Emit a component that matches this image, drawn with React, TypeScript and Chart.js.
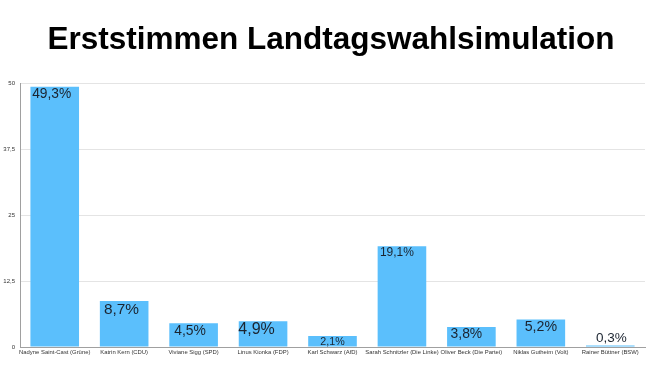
import React, { useEffect, useRef } from "react";
import { Chart, registerables } from "chart.js";

Chart.register(...registerables);

const TITLE = "Erststimmen Landtagswahlsimulation";
const CANDIDATES = [
  "Nadyne Saint-Cast (Grüne)",
  "Katrin Kern (CDU)",
  "Viviane Sigg (SPD)",
  "Linus Kionka (FDP)",
  "Karl Schwarz (AfD)",
  "Sarah Schnitzler (Die Linke)",
  "Oliver Beck (Die Partei)",
  "Niklas Gutheim (Volt)",
  "Rainer Büttner (BSW)",
];
const VOTES = [49.3, 8.7, 4.5, 4.9, 2.1, 19.1, 3.8, 5.2, 0.3];
const Y_TICKS = [0, 12.5, 25, 37.5, 50];
// per-bar label styling (font size, horizontal nudge)
const LABEL_SIZES = [13.8, 15.4, 13.9, 16, 10.7, 12, 13.9, 14.2, 13.5];
const LABEL_DX = [-3, -2.7, -3.5, -6.5, 0, -5, -5, 0, 1];

const FONT = '"Liberation Sans", Arial, sans-serif';
const fmt = (v: number) => v.toString().replace(".", ",");

const labelPlugin = {
  id: "barLabels",
  afterDatasetsDraw(chart: any) {
    const ctx = chart.ctx;
    const meta = chart.getDatasetMeta(0);
    ctx.save();
    ctx.fillStyle = "#1b2430";
    ctx.textAlign = "center";
    ctx.textBaseline = "alphabetic";
    meta.data.forEach((bar: any, i: number) => {
      const size = LABEL_SIZES[i];
      ctx.font = `${size}px ${FONT}`;
      const text = fmt(VOTES[i]) + "%";
      const h = bar.base - bar.y;
      const cap = size * 0.716;
      const x = bar.x + LABEL_DX[i];
      if (h < cap) {
        ctx.fillText(text, x, bar.y - 3.5);
      } else {
        ctx.fillText(text, x, bar.y + cap + 1.5);
      }
    });
    ctx.restore();
  },
};

const titlePlugin = {
  id: "bigTitle",
  afterDraw(chart: any) {
    const ctx = chart.ctx;
    ctx.save();
    ctx.fillStyle = "#000";
    ctx.font = `bold 31.5px ${FONT}`;
    ctx.textAlign = "center";
    ctx.textBaseline = "alphabetic";
    ctx.fillText(TITLE, 331, 49);
    ctx.restore();
  },
};

export default function App() {
  const ref = useRef<HTMLCanvasElement>(null);
  useEffect(() => {
    if (!ref.current) return;
    const chart = new Chart(ref.current, {
      type: "bar",
      data: {
        labels: CANDIDATES,
        datasets: [
          {
            data: VOTES,
            backgroundColor: "#5bbffc",
            categoryPercentage: 1,
            barPercentage: 0.7,
          },
        ],
      },
      options: {
        animation: false,
        responsive: false,
        layout: { padding: { top: 83, right: 21, left: 0, bottom: 0 } },
        plugins: { legend: { display: false }, tooltip: { enabled: false }, title: { display: false } },
        scales: {
          x: {
            grid: { display: false, drawTicks: false },
            border: { display: true, color: "#a0a0a0", width: 1 },
            ticks: {
              autoSkip: false,
              maxRotation: 0,
              minRotation: 0,
              padding: 2,
              color: "#333",
              font: { size: 5.9, family: FONT },
            },
            afterFit: (s: any) => {
              s.height = 20;
            },
          },
          y: {
            min: 0,
            max: 50,
            afterBuildTicks: (s: any) => {
              s.ticks = Y_TICKS.map((v) => ({ value: v }));
            },
            grid: { color: "#e4e4e4", drawTicks: false },
            border: { display: true, color: "#a0a0a0", width: 1 },
            ticks: {
              padding: 5,
              color: "#333",
              font: { size: 6, family: FONT },
              callback: (v: any) => fmt(Number(v)),
            },
            afterFit: (s: any) => {
              s.width = 20;
            },
          },
        },
      },
      plugins: [labelPlugin, titlePlugin],
    });
    return () => chart.destroy();
  }, []);
  return (
    <div style={{ position: "fixed", left: 0, top: 0, width: 666, height: 367, background: "#fff" }}>
      <canvas ref={ref} width={666} height={367} />
    </div>
  );
}
